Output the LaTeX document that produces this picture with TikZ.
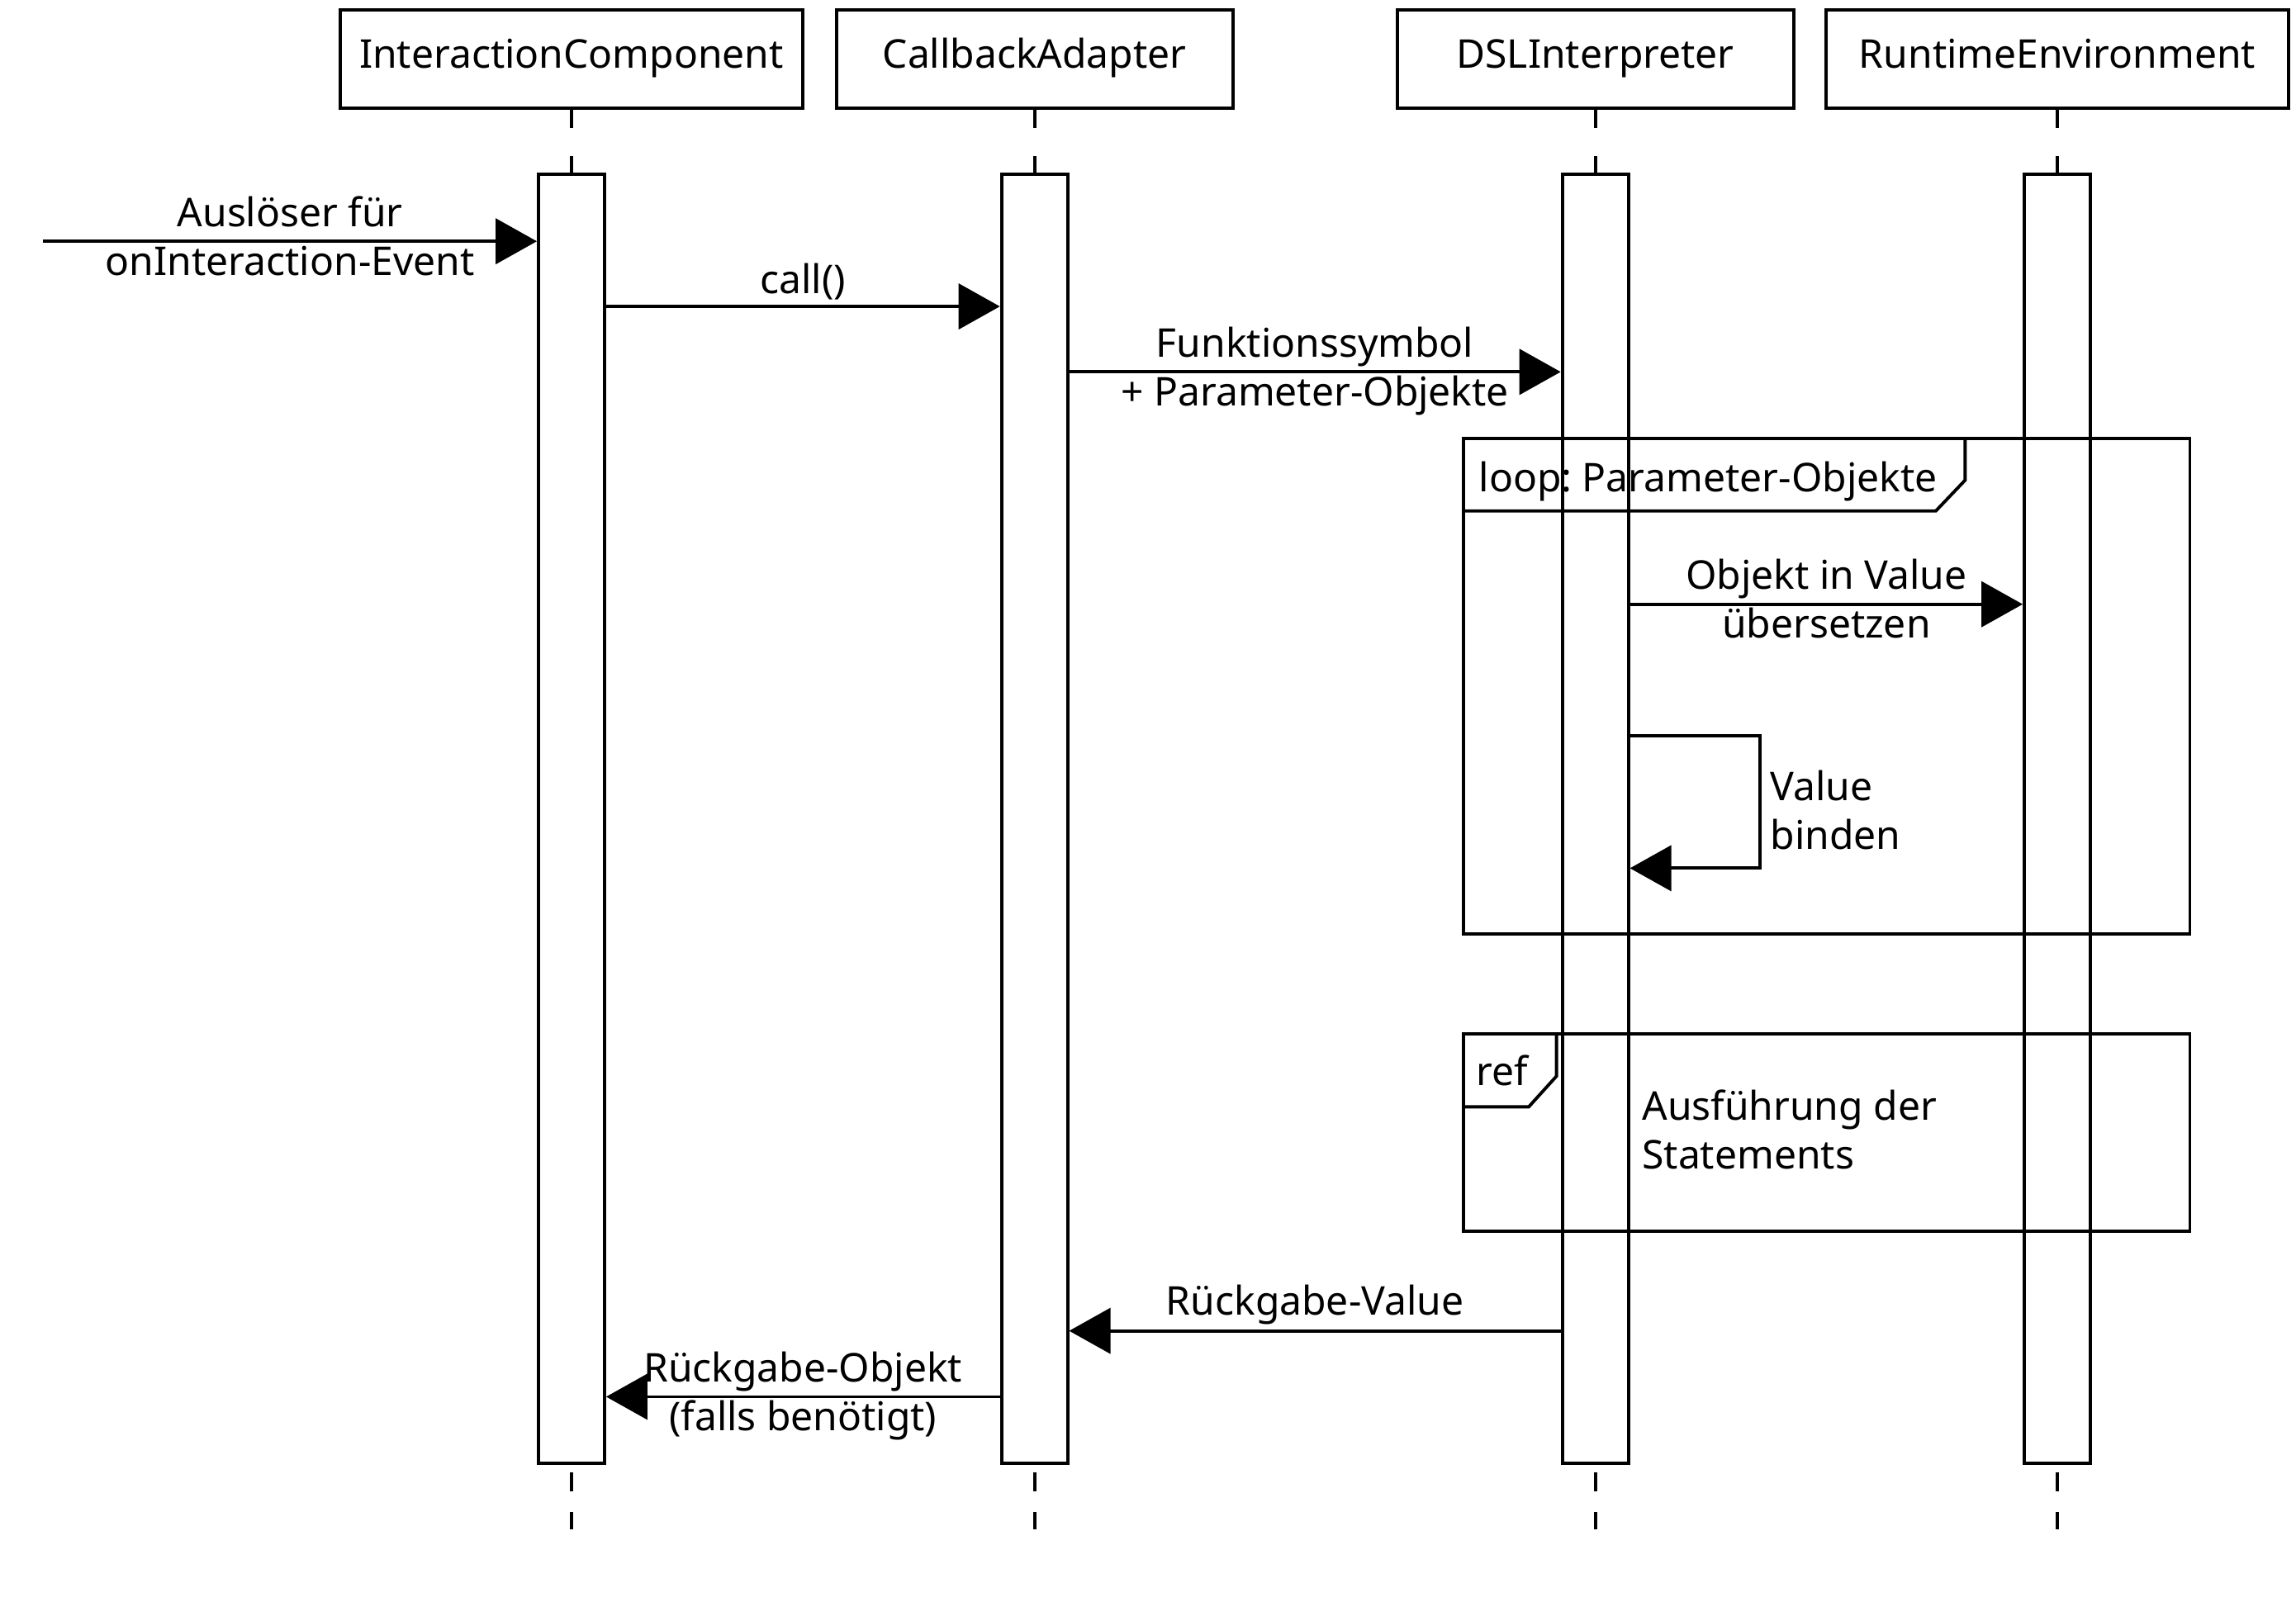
\documentclass[tikz,border=0pt]{standalone}
\usepackage{fontspec}
\setmainfont{Noto Sans}
\usetikzlibrary{positioning, arrows.meta}
\frenchspacing

\begin{document}
\begin{tikzpicture}[
    x=0.01773cm, y=-0.01773cm,
    every node/.style = {font=\fontsize{13.65}{16.8}\selectfont},
    % Style for the boxes at the top of each lifeline
    head/.style = {draw, line width=1.1pt, minimum width=#1, minimum height=1.19cm,
                   inner sep=0pt, text height=0.45cm, text depth=0.24cm},
    % Style for the activation bars (not filled, frames show through)
    bar/.style = {draw, line width=1.1pt, minimum width=0.8cm, minimum height=15.61cm, inner sep=0pt},
    % Dashed pieces of the lifelines above and below the bars
    lifetop/.style = {line width=1.1pt, dash pattern=on 0.22cm off 0.34cm},
    lifeend/.style = {line width=1.1pt, dash pattern=on 0.23cm off 0.25cm, dash phase=0.39cm},
    % Messages with a filled triangle head
    msg/.style = {-{Triangle[length=0.5cm, width=0.55cm]}, line width=1.1pt},
    lbl/.style = {align=center, text depth=0pt, yshift=0.07cm},
    lblup/.style = {above, inner sep=1.6pt},
    frameline/.style = {line width=1.1pt}
]
    \useasboundingbox (0,0) rectangle (1568,1094);

    % --- LIFELINES ---
    \node[head=5.6cm] (ichead) at (390.3,40.5) {InteractionComponent};
    \node[head=4.8cm] (cahead) at (706.5,40.5) {CallbackAdapter};
    \node[head=4.8cm] (dslhead) at (1089.5,40.5) {DSLInterpreter};
    \node[head=5.6cm] (rthead) at (1405,40.5) {RuntimeEnvironment};

    \foreach \n/\x in {ic/390.3, ca/706.5, dsl/1089.5, rt/1405} {
        \node[bar] (\n bar) at (\x,559) {};
        \coordinate (\n end) at (\x,1044.5);
        \draw[lifetop] (\n head) -- (\n bar);
        \draw[lifeend] (\n bar) -- (\n end);
    }

    % --- CALL CHAIN ---
    \coordinate (found) at (29.5,164.8);
    \draw[msg] (found) -- (icbar.west |- found)
        node[midway, lbl] {Auslöser für\\onInteraction-Event};

    \draw[msg] (icbar.east |- 0,209.3) -- (cabar.west |- 0,209.3)
        node[midway, lblup] {call()};

    \draw[msg] (cabar.east |- 0,254) -- (dslbar.west |- 0,254)
        node[midway, lbl] {Funktionssymbol\\+ Parameter-Objekte};

    % --- LOOP FRAME ---
    \draw[frameline] (999.4,299.5) rectangle (1495.5,638);
    \draw[frameline] (999.4,349) -- (1322,349) -- (1342,328) -- (1342,299.5);
    \node[anchor=west] (looplbl) at (1003,329) {loop: Parameter-Objekte};

    \draw[msg] (dslbar.east |- 0,412.7) -- (rtbar.west |- 0,412.7)
        node[midway, lbl] {Objekt in Value\\übersetzen};

    \coordinate (selfturn) at (1202,593);
    \draw[msg] (dslbar.east |- 0,502.6) -| (selfturn) -- (dslbar.east |- selfturn);
    \node[anchor=west, align=left] (bindlbl) at (1202,553.5) {Value\\binden};

    % --- REF FRAME ---
    \draw[frameline] (999.4,706) rectangle (1495.5,841);
    \draw[frameline] (999.4,756) -- (1044,756) -- (1063,735) -- (1063,706);
    \node[anchor=west] (reflbl) at (1001,731) {ref};
    \node[anchor=west, align=left] (reftext) at (1114.5,771.5) {Ausführung der\\Statements};

    % --- RETURNS ---
    \draw[msg] (dslbar.west |- 0,909) -- (cabar.east |- 0,909)
        node[midway, lblup] {Rückgabe-Value};

    \draw[msg] (cabar.west |- 0,954) -- (icbar.east |- 0,954)
        node[midway, lbl] {Rückgabe-Objekt\\(falls benötigt)};

\end{tikzpicture}
\end{document}
